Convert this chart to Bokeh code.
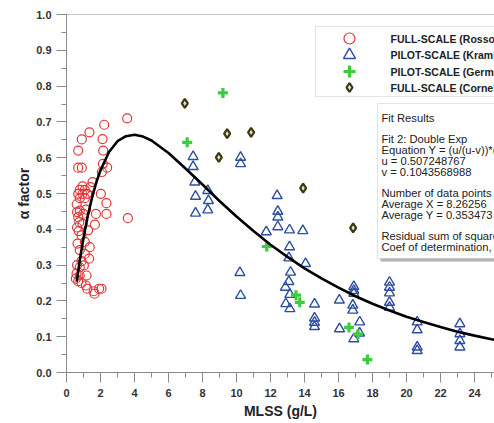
from bokeh.plotting import figure
from bokeh.models import (FixedTicker, Span, BoxAnnotation, Label, PrintfTickFormatter)
from bokeh.embed import file_html
from bokeh.resources import INLINE

# ---------------- data ----------------
rosso_x = [3.57, 2.22, 1.35, 0.90, 2.12, 0.69, 2.16, 0.69, 0.90, 2.14,
           2.39, 2.08, 1.53, 1.41, 0.78, 1.08, 0.69, 0.94, 1.22, 2.02,
           0.78, 1.08, 0.94, 2.35, 0.78, 0.98, 0.69, 0.62, 1.73, 2.35,
           3.61, 0.75, 0.94, 0.62, 1.67, 1.27, 0.88, 1.08, 1.37, 0.78,
           1.08, 1.33, 0.88, 0.78, 1.02, 0.59, 0.78, 1.18, 0.55, 0.69,
           0.88, 1.14, 1.22, 1.60, 1.92, 2.06, 1.65, 0.62, 0.65, 0.60,
           0.72, 1.15]
rosso_y = [0.710, 0.692, 0.671, 0.651, 0.652, 0.620, 0.620, 0.572, 0.572, 0.583,
           0.572, 0.560, 0.532, 0.518, 0.510, 0.510, 0.499, 0.499, 0.499, 0.499,
           0.487, 0.487, 0.520, 0.473, 0.452, 0.443, 0.434, 0.448, 0.443, 0.443,
           0.431, 0.420, 0.415, 0.405, 0.413, 0.397, 0.383, 0.365, 0.350, 0.342,
           0.331, 0.318, 0.311, 0.294, 0.299, 0.276, 0.271, 0.271, 0.262, 0.255,
           0.250, 0.243, 0.234, 0.227, 0.234, 0.234, 0.220, 0.300, 0.360, 0.470,
           0.395, 0.455]

krampe_x = [7.45, 7.45, 7.55, 8.31, 7.59, 8.35, 8.31, 7.59, 10.24, 10.24,
            12.39, 12.43, 12.43, 12.43, 11.75, 13.12, 13.90, 13.12, 13.08, 14.06,
            10.20, 13.18, 13.08, 12.88, 10.24, 13.14, 12.90, 13.14, 14.59, 14.59,
            14.59, 14.59, 16.05, 16.06, 16.90, 16.90, 16.90, 16.84, 16.84, 17.25,
            17.24, 16.90, 19.00, 19.00, 19.00, 19.00, 19.00, 20.63, 20.63, 20.63,
            20.63, 23.14, 23.14, 23.14, 23.14]
krampe_y = [0.603, 0.575, 0.532, 0.508, 0.492, 0.480, 0.454, 0.445, 0.601, 0.583,
            0.494, 0.450, 0.434, 0.407, 0.393, 0.398, 0.396, 0.351, 0.320, 0.304,
            0.279, 0.280, 0.254, 0.238, 0.215, 0.218, 0.192, 0.178, 0.191, 0.152,
            0.140, 0.128, 0.202, 0.122, 0.240, 0.229, 0.221, 0.188, 0.174, 0.141,
            0.110, 0.094, 0.252, 0.238, 0.222, 0.196, 0.182, 0.141, 0.119, 0.071,
            0.061, 0.136, 0.108, 0.089, 0.071]

germain_x = [7.10, 9.20, 11.78, 13.50, 13.72, 16.62, 17.15, 17.70]
germain_y = [0.643, 0.781, 0.352, 0.216, 0.196, 0.126, 0.107, 0.036]

cornel_x = [6.96, 9.45, 10.86, 8.96, 13.92, 16.86]
cornel_y = [0.752, 0.667, 0.671, 0.601, 0.515, 0.404]

# fitted double-exponential curve
fit_x = [0.6, 0.8, 1.0, 1.25, 1.5, 1.75, 2.0, 2.5, 3.0, 3.5, 4.0, 4.5, 5.0,
         6.0, 7.0, 8.0, 9.0, 10.0, 11.0, 12.0, 13.0, 14.0, 15.0, 16.0, 17.0,
         18.0, 19.0, 20.0, 21.0, 22.0, 23.0, 24.0, 25.0, 26.0]
fit_y = [0.254, 0.319, 0.376, 0.437, 0.488, 0.531, 0.565, 0.616, 0.646, 0.660,
         0.664, 0.659, 0.648, 0.613, 0.570, 0.525, 0.479, 0.436, 0.395, 0.357,
         0.323, 0.291, 0.263, 0.237, 0.213, 0.192, 0.173, 0.156, 0.141, 0.127,
         0.114, 0.103, 0.093, 0.084]

x_ticks = [0, 2, 4, 6, 8, 10, 12, 14, 16, 18, 20, 22, 24]
x_minor = [0, 1, 2, 3, 4, 5, 6, 7, 8, 9, 10, 11, 12, 13, 14, 15, 16, 17, 18,
           19, 20, 21, 22, 23, 24, 25]
y_ticks = [0.0, 0.1, 0.2, 0.3, 0.4, 0.5, 0.6, 0.7, 0.8, 0.9, 1.0]
y_minor = [0.0, 0.05, 0.1, 0.15, 0.2, 0.25, 0.3, 0.35, 0.4, 0.45, 0.5, 0.55,
           0.6, 0.65, 0.7, 0.75, 0.8, 0.85, 0.9, 0.95, 1.0]

legend_labels = ["FULL-SCALE (Rosso et al., 2005)",
                 "PILOT-SCALE (Krampe & Krauth, 2003)",
                 "PILOT-SCALE (Germain et al., 2007)",
                 "FULL-SCALE (Cornel et al., 2003)"]

fit_lines = ["Fit Results", "",
             "Fit 2: Double Exp",
             "Equation Y = (u/(u-v))*(exp(-v*x)-exp(-u*x))",
             "u = 0.507248767",
             "v = 0.1043568988", "",
             "Number of data points used = 131",
             "Average X = 8.26256",
             "Average Y = 0.353473", "",
             "Residual sum of squares = 1.2",
             "Coef of determination, R-squared = 0.7"]

# ---------------- layout helpers (pixel -> data of this frame) ----------------
FRAME_L, FRAME_B, PX_PER_X, PX_PER_Y = 66, 372, 17.0, 358.0
def px2x(px):
    return (px - FRAME_L) / PX_PER_X
def px2y(py):
    return (FRAME_B - py) / PX_PER_Y

W, H = 494, 423
p = figure(width=W, height=H, x_range=(0, (W - FRAME_L) / PX_PER_X), y_range=(0, 1.0),
           output_backend="svg", toolbar_location=None,
           min_border_left=FRAME_L, min_border_right=0, min_border_top=14,
           min_border_bottom=H - FRAME_B)
p.outline_line_color = None
p.xgrid.visible = False
p.ygrid.visible = False
p.background_fill_color = "white"
p.border_fill_color = "white"

FONT = "Liberation Sans"
for ax in (p.xaxis[0], p.yaxis[0]):
    ax.axis_line_color = "#8a8a8a"
    ax.major_tick_line_color = "#8a8a8a"
    ax.minor_tick_line_color = "#8a8a8a"
    ax.major_tick_in = 0
    ax.minor_tick_in = 0
    ax.major_tick_out = 10
    ax.minor_tick_out = 5
    ax.major_label_text_font = FONT
    ax.major_label_text_font_style = "bold"
    ax.major_label_text_font_size = "11px"
    ax.major_label_text_color = "#333333"
    ax.axis_label_text_font = FONT
    ax.axis_label_text_font_style = "bold"
    ax.axis_label_text_font_size = "14px"
    ax.axis_label_text_color = "#222222"

p.xaxis.ticker = FixedTicker(ticks=x_ticks, minor_ticks=x_minor)
p.yaxis.ticker = FixedTicker(ticks=y_ticks, minor_ticks=y_minor)
p.yaxis.formatter = PrintfTickFormatter(format="%.1f")
p.xaxis.axis_label = "MLSS (g/L)"
p.yaxis.axis_label = "α factor"
p.xaxis.major_label_standoff = 6
p.xaxis.axis_label_standoff = 3
p.yaxis.major_label_standoff = 5
p.yaxis.axis_label_standoff = 1

# top frame line
p.add_layout(Span(location=1.0, dimension="width", line_color="#8a8a8a", line_width=1))

STY = {
    "circle":   dict(fill_color=None, line_color="#e0383a", line_width=1.2),
    "triangle": dict(fill_color=None, line_color="#2e4ea2", line_width=1.4),
    "cross":    dict(line_color="#3dcc3d", line_width=3.2),
    "diamond":  dict(fill_color="#e6e2c4", line_color="#3a3712", line_width=2.2),
}

p.scatter(rosso_x, rosso_y, marker="circle", size=9, **STY["circle"])
p.scatter(krampe_x, krampe_y, marker="triangle", size=10, **STY["triangle"])
p.scatter(germain_x, germain_y, marker="cross", size=10, **STY["cross"])
p.scatter(cornel_x, cornel_y, marker="diamond", size=9, **STY["diamond"])
p.line(fit_x, fit_y, line_color="black", line_width=2.6)

# ---- legend box (drawn by hand so the keys keep the reference's size) ----
p.add_layout(BoxAnnotation(left=px2x(315), right=None, top=px2y(26), bottom=px2y(96),
                           fill_color="white", fill_alpha=1.0, line_color="#a8a8a8",
                           line_width=1, level="annotation"))
key_markers = ["circle", "triangle", "cross", "diamond"]
key_sizes = [11, 12, 12, 9]
row_y = [38, 54.5, 71, 87]
for mk, sz, ry, lab in zip(key_markers, key_sizes, row_y, legend_labels):
    p.scatter([px2x(349)], [px2y(ry)], marker=mk, size=sz, level="overlay", **STY[mk])
    p.add_layout(Label(x=px2x(390), y=px2y(ry), text=lab, text_font=FONT,
                       text_font_style="bold", text_font_size="10.5px",
                       text_color="#222222", text_baseline="middle", level="overlay"))

# ---- fit results box with shadow ----
p.add_layout(BoxAnnotation(left=px2x(380), right=None, top=px2y(106), bottom=px2y(261),
                           fill_color="#b4b4b4", fill_alpha=1.0, line_color=None))
p.add_layout(BoxAnnotation(left=px2x(377), right=None, top=px2y(103), bottom=px2y(258),
                           fill_color="white", fill_alpha=1.0, line_color="#a0a0a0",
                           line_width=1))
for i, line in enumerate(fit_lines):
    if not line:
        continue
    p.add_layout(Label(x=px2x(381), y=px2y(117 + 10.8 * i), text=line,
                       text_font=FONT, text_font_size="11.2px", text_color="#222222",
                       text_baseline="middle", text_align="left"))

open("out.html", "w").write(file_html(p, INLINE))
